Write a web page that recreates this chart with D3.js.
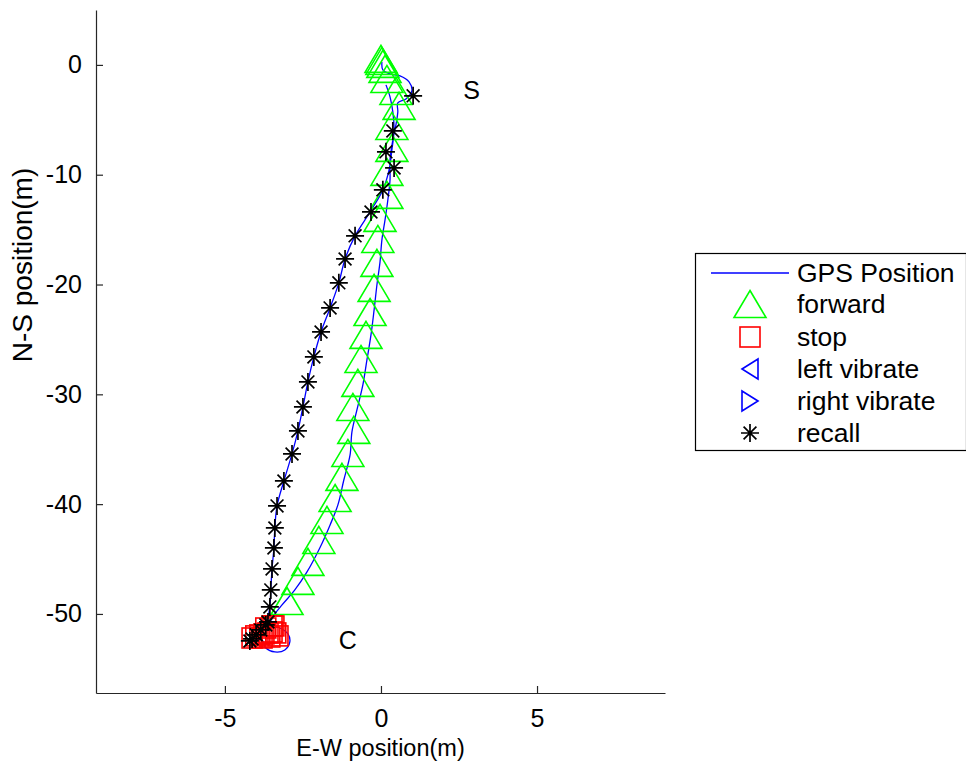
<!DOCTYPE html>
<html>
<head>
<meta charset="utf-8">
<script src="https://cdn.jsdelivr.net/npm/d3@7"></script>
<style>
html,body{margin:0;padding:0;background:#fff;}
svg{display:block;font-family:"Liberation Sans",Arial,sans-serif;}
</style>
</head>
<body>
<svg id="chart" width="966" height="769"></svg>
<script>
// ---- data (metres) ----
const xTicks = [-5, 0, 5];
const yTicks = [0, -10, -20, -30, -40, -50];

const gpsForward = [
  [0.03,0.27],[0.06,-0.46],[0.29,-0.82],[0.61,-1.00],[0.90,-1.55],[0.99,-2.37],[0.80,-3.10],
  [0.54,-3.46],[0.54,-4.28],[0.48,-5.46],[0.38,-6.83],[0.29,-8.65],[0.29,-10.47],[0.22,-12.30],
  [0.13,-14.12],[0.03,-15.94],[-0.03,-17.94],[-0.13,-20.04],[-0.22,-22.31],[-0.32,-24.59],
  [-0.45,-26.87],[-0.58,-29.14],[-0.77,-31.42],[-0.93,-33.42],[-0.99,-35.52],[-1.19,-37.80],
  [-1.38,-40.07],[-1.63,-41.89],[-1.96,-43.99],[-2.37,-46.17],[-2.76,-47.81],[-3.17,-49.18],
  [-3.49,-50.36],[-3.56,-51.09],[-3.24,-51.28],[-2.98,-51.82],[-2.92,-52.55],[-3.08,-53.28],
  [-3.40,-53.46],[-3.69,-53.10],[-3.81,-52.37]
];
const gpsReturn = [
  [-4.20,-52.46],[-4.01,-51.91],[-3.81,-51.37],[-3.65,-50.55],[-3.56,-49.36],[-3.53,-47.81],
  [-3.49,-45.90],[-3.43,-43.99],[-3.40,-42.17],[-3.33,-40.16],[-3.11,-37.89],[-2.85,-35.43],
  [-2.66,-33.33],[-2.50,-31.15],[-2.34,-28.87],[-2.15,-26.59],[-1.92,-24.32],[-1.63,-22.13],
  [-1.35,-19.85],[-1.15,-17.67],[-0.83,-15.57],[-0.35,-13.39],[0.06,-11.38],[0.26,-9.56],
  [0.35,-7.74],[0.42,-5.92],[0.38,-4.28],[0.29,-2.91],[0.16,-1.82]
];
const forwardPts = [
  [0.00,0.55],[0.03,0.36],[0.06,0.09],[0.13,-0.36],[0.19,-1.28],[0.48,-2.37],[0.58,-3.73],
  [0.35,-5.56],[0.35,-7.56],[0.19,-9.74],[0.19,-11.84],[-0.03,-13.93],[-0.10,-15.85],
  [-0.13,-18.03],[-0.22,-20.31],[-0.35,-22.50],[-0.48,-24.59],[-0.64,-26.78],[-0.74,-28.96],
  [-0.90,-31.15],[-0.87,-33.24],[-1.06,-35.34],[-1.25,-37.52],[-1.47,-39.44],[-1.73,-41.44],
  [-1.99,-43.26],[-2.34,-45.26],[-2.66,-46.99],[-3.01,-48.82]
];
const stopPts = [
  [-4.13,-52.19],[-4.01,-52.00],[-3.88,-51.91],[-3.75,-51.82],[-3.62,-51.73],[-3.49,-51.64],
  [-3.37,-51.73],[-3.30,-52.00],[-3.56,-52.10],[-3.81,-52.19],[-3.69,-51.28],[-3.49,-51.09],
  [-3.43,-51.09]
];
const leftVibratePts = [];
const rightVibratePts = [];
const recallPts = [
  [1.03,-2.82],[0.38,-6.01],[0.16,-7.92],[0.42,-9.38],[0.06,-11.38],[-0.32,-13.39],[-0.83,-15.57],
  [-1.15,-17.67],[-1.35,-19.85],[-1.63,-22.13],[-1.92,-24.32],[-2.15,-26.59],[-2.34,-28.87],
  [-2.50,-31.15],[-2.66,-33.33],[-2.85,-35.43],[-3.11,-37.89],[-3.33,-40.16],[-3.40,-42.17],
  [-3.43,-43.99],[-3.49,-45.90],[-3.53,-47.81],[-3.56,-49.36],[-3.62,-50.73],[-3.69,-51.00],
  [-3.85,-51.46],[-4.00,-51.90],[-4.13,-52.28],[-4.20,-52.46]
];
const annotations = [
  {text:"S", x:2.9, y:-2.3},
  {text:"C", x:-1.06, y:-52.4}
];
const legendLabels = ["GPS Position","forward","stop","left vibrate","right vibrate","recall"];

// ---- layout ----
const svg = d3.select("#chart");
const plot = {left:96, right:665, top:10, bottom:693};
const x = d3.scaleLinear().domain([-9.13, 9.1]).range([plot.left, plot.right]);
const y = d3.scaleLinear().domain([-57.2, 5]).range([plot.bottom, plot.top]);
const FONT = 25;
const axisColor = "#262626";

const markers = {
  forward: (sel)=>sel.append("path").attr("d","M0,-13.5L16,13.5L-16,13.5Z")
                .attr("fill","none").attr("stroke","#00ff00").attr("stroke-width",1.6),
  stop: (sel)=>sel.append("rect").attr("x",-10).attr("y",-10).attr("width",20).attr("height",20)
                .attr("fill","none").attr("stroke","#ff0000").attr("stroke-width",1.6),
  left: (sel)=>sel.append("path").attr("d","M-8,0L8,-10L8,10Z")
                .attr("fill","none").attr("stroke","#0000ff").attr("stroke-width",1.6),
  right: (sel)=>sel.append("path").attr("d","M8,0L-8,-10L-8,10Z")
                .attr("fill","none").attr("stroke","#0000ff").attr("stroke-width",1.6),
  recall: (sel)=>sel.append("path").attr("d","M-9,0H9M0,-9V9M-6.4,-6.4L6.4,6.4M-6.4,6.4L6.4,-6.4")
                .attr("fill","none").attr("stroke","#000").attr("stroke-width",1.7)
};

// ---- axes ----
const xAxis = d3.axisBottom(x).tickValues(xTicks).tickSizeInner(-7).tickSizeOuter(0).tickPadding(16).tickFormat(d3.format("d"));
const yAxis = d3.axisLeft(y).tickValues(yTicks).tickSizeInner(-7).tickSizeOuter(0).tickPadding(14).tickFormat(d3.format("d"));

const gx = svg.append("g").attr("transform",`translate(0,${plot.bottom})`).call(xAxis);
const gy = svg.append("g").attr("transform",`translate(${plot.left},0)`).call(yAxis);
[gx,gy].forEach(g=>{
  g.select(".domain").attr("stroke",axisColor).attr("stroke-width",1.2);
  g.selectAll(".tick line").attr("stroke",axisColor).attr("stroke-width",1.2);
  g.selectAll(".tick text").attr("fill","#000").style("font-size",FONT+"px")
    .style("font-family","'Liberation Sans',Arial,sans-serif");
});
gx.selectAll(".tick text").attr("dy","0.71em");
gx.selectAll(".tick text").text(d=>String(d));
gy.selectAll(".tick text").text(d=>String(d));

svg.append("text").attr("x",(x(-9.13)+x(9.1))/2).attr("y",756)
  .attr("text-anchor","middle").style("font-size","23.5px").text("E-W position(m)");
svg.append("text").attr("transform",`translate(32,265) rotate(-90)`)
  .attr("text-anchor","middle").style("font-size","28px").text("N-S position(m)");

// ---- data marks ----
const line = d3.line().x(d=>x(d[0])).y(d=>y(d[1])).curve(d3.curveCatmullRom.alpha(0.5));
const gpsPath = gpsForward.concat(gpsReturn);
svg.append("path").datum(gpsPath).attr("d",line).attr("fill","none")
  .attr("stroke","#0000ff").attr("stroke-width",1.3);

function drawMarkers(data, kind){
  const g = svg.append("g");
  data.forEach(d=>{
    const m = g.append("g").attr("transform",`translate(${x(d[0])},${y(d[1])})`);
    markers[kind](m);
  });
}
drawMarkers(forwardPts,"forward");
drawMarkers(stopPts,"stop");
drawMarkers(leftVibratePts,"left");
drawMarkers(rightVibratePts,"right");
drawMarkers(recallPts,"recall");

svg.append("g").selectAll("text").data(annotations).join("text")
  .attr("x",d=>x(d.x)).attr("y",d=>y(d.y)).attr("dy","0.35em").attr("text-anchor","middle")
  .style("font-size",FONT+"px").text(d=>d.text);

// ---- legend ----
const lg = svg.append("g");
lg.append("rect").attr("x",695.5).attr("y",253.5).attr("width",271).attr("height",197)
  .attr("fill","#fff").attr("stroke","#000").attr("stroke-width",1.2);
const rowY = [273, 304, 337, 369, 401, 433];
const kinds = [null,"forward","stop","left","right","recall"];
legendLabels.forEach((lab,i)=>{
  const ry = rowY[i];
  if(i===0){
    lg.append("line").attr("x1",711).attr("x2",789).attr("y1",ry).attr("y2",ry)
      .attr("stroke","#0000ff").attr("stroke-width",1.3);
  } else {
    const m = lg.append("g").attr("transform",`translate(750,${ry})`);
    markers[kinds[i]](m);
  }
  lg.append("text").attr("x",797).attr("y",ry).attr("dy","0.35em")
    .style("font-size","26.5px").text(lab);
});
</script>
</body>
</html>
